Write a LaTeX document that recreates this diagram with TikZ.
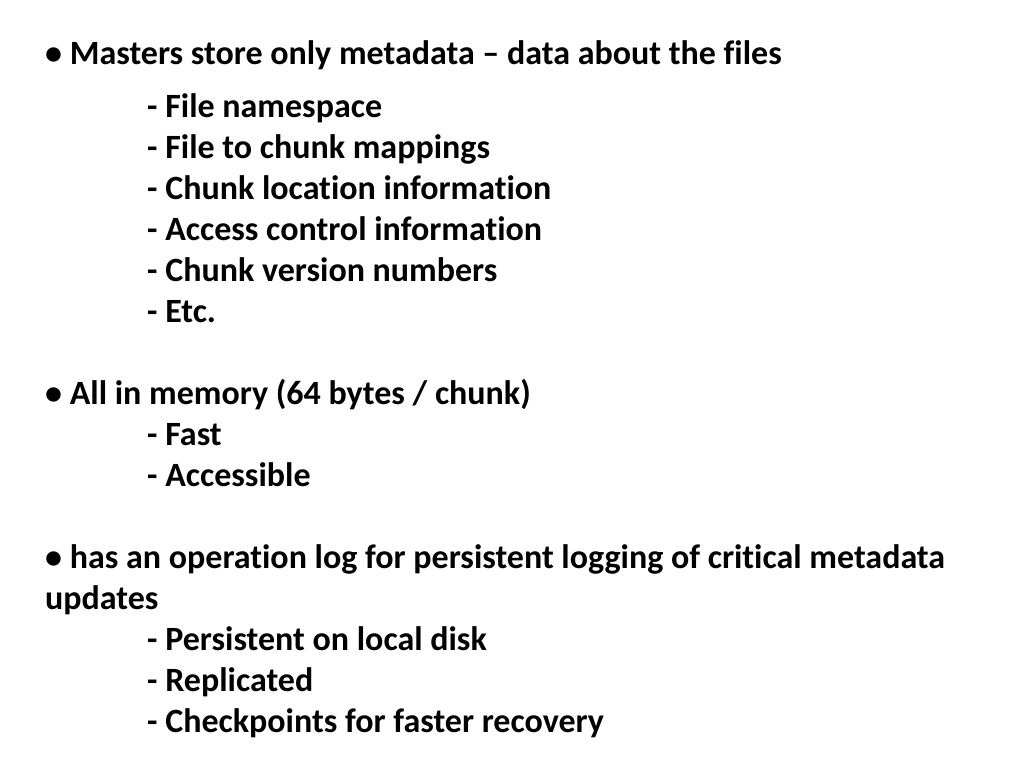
\documentclass[tikz,border=0pt]{standalone}
\usepackage{fontspec}
\setmainfont[Ligatures=NoCommon]{Carlito}
\begin{document}
\begin{tikzpicture}[x=1pt,y=-1pt,
  line/.style={anchor=base west,inner sep=0pt,font=\fontsize{34}{40}\selectfont\bfseries}]
\useasboundingbox[fill=white] (0,0) rectangle (1024,768);
\node[line] (l1) at (45,64) {• Masters store only metadata – data about the files};
\node[line] (l2) at (147,117) {- File namespace};
\node[line] (l3) at (147,158) {- File to chunk mappings};
\node[line] (l4) at (147,199) {- Chunk location information};
\node[line] (l5) at (147,240) {- Access control information};
\node[line] (l6) at (147,281) {- Chunk version numbers};
\node[line] (l7) at (147,322) {- Etc.};
\node[line] (l8) at (45,404) {• All in memory (64 bytes / chunk)};
\node[line] (l9) at (147,445) {- Fast};
\node[line] (l10) at (147,486) {- Accessible};
\node[line] (l11) at (45,568) {• has an operation log for persistent logging of critical metadata};
\node[line] (l12) at (45,609) {updates};
\node[line] (l13) at (147,650) {- Persistent on local disk};
\node[line] (l14) at (147,691) {- Replicated};
\node[line] (l15) at (147,732) {- Checkpoints for faster recovery};
\end{tikzpicture}
\end{document}
